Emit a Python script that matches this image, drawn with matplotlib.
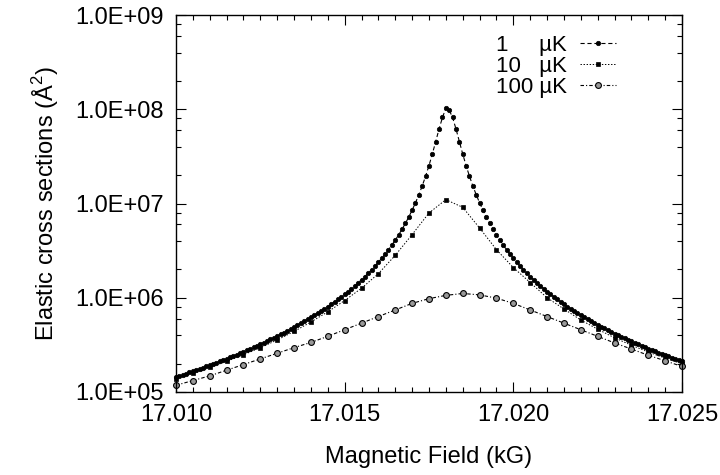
import numpy as np
import matplotlib.pyplot as plt
from matplotlib.ticker import MultipleLocator, LogLocator, FuncFormatter, NullFormatter

plt.rcParams['font.family'] = ['Liberation Sans', 'DejaVu Sans']
plt.rcParams['mathtext.fontset'] = 'custom'
plt.rcParams['mathtext.rm'] = 'Liberation Sans'
plt.rcParams['lines.scale_dashes'] = False

# 1 uK curve, sampled every 0.0001 kG
field_1uK = [
    17.0100, 17.0101, 17.0102, 17.0103, 17.0104, 17.0105, 17.0106, 17.0107, 17.0108, 17.0109,
    17.0110, 17.0111, 17.0112, 17.0113, 17.0114, 17.0115, 17.0116, 17.0117, 17.0118, 17.0119,
    17.0120, 17.0121, 17.0122, 17.0123, 17.0124, 17.0125, 17.0126, 17.0127, 17.0128, 17.0129,
    17.0130, 17.0131, 17.0132, 17.0133, 17.0134, 17.0135, 17.0136, 17.0137, 17.0138, 17.0139,
    17.0140, 17.0141, 17.0142, 17.0143, 17.0144, 17.0145, 17.0146, 17.0147, 17.0148, 17.0149,
    17.0150, 17.0151, 17.0152, 17.0153, 17.0154, 17.0155, 17.0156, 17.0157, 17.0158, 17.0159,
    17.0160, 17.0161, 17.0162, 17.0163, 17.0164, 17.0165, 17.0166, 17.0167, 17.0168, 17.0169,
    17.0170, 17.0171, 17.0172, 17.0173, 17.0174, 17.0175, 17.0176, 17.0177, 17.0178, 17.0179,
    17.0180, 17.0181, 17.0182, 17.0183, 17.0184, 17.0185, 17.0186, 17.0187, 17.0188, 17.0189,
    17.0190, 17.0191, 17.0192, 17.0193, 17.0194, 17.0195, 17.0196, 17.0197, 17.0198, 17.0199,
    17.0200, 17.0201, 17.0202, 17.0203, 17.0204, 17.0205, 17.0206, 17.0207, 17.0208, 17.0209,
    17.0210, 17.0211, 17.0212, 17.0213, 17.0214, 17.0215, 17.0216, 17.0217, 17.0218, 17.0219,
    17.0220, 17.0221, 17.0222, 17.0223, 17.0224, 17.0225, 17.0226, 17.0227, 17.0228, 17.0229,
    17.0230, 17.0231, 17.0232, 17.0233, 17.0234, 17.0235, 17.0236, 17.0237, 17.0238, 17.0239,
    17.0240, 17.0241, 17.0242, 17.0243, 17.0244, 17.0245, 17.0246, 17.0247, 17.0248, 17.0249,
    17.0250]
sigma_1uK = [
    1.44e5, 1.48e5, 1.52e5, 1.56e5, 1.61e5, 1.65e5, 1.70e5, 1.75e5, 1.80e5, 1.86e5,
    1.92e5, 1.98e5, 2.04e5, 2.11e5, 2.17e5, 2.25e5, 2.32e5, 2.40e5, 2.48e5, 2.57e5,
    2.66e5, 2.76e5, 2.86e5, 2.97e5, 3.08e5, 3.20e5, 3.33e5, 3.46e5, 3.60e5, 3.75e5,
    3.91e5, 4.07e5, 4.25e5, 4.44e5, 4.65e5, 4.86e5, 5.09e5, 5.34e5, 5.60e5, 5.89e5,
    6.20e5, 6.52e5, 6.86e5, 7.23e5, 7.63e5, 8.06e5, 8.53e5, 9.04e5, 9.60e5, 1.02e6,
    1.089e6, 1.163e6, 1.245e6, 1.336e6, 1.437e6, 1.550e6, 1.677e6, 1.821e6, 1.983e6, 2.167e6,
    2.379e6, 2.622e6, 2.905e6, 3.236e6, 3.625e6, 4.088e6, 4.644e6, 5.320e6, 6.151e6, 7.187e6,
    8.499e6, 1.019e7, 1.241e7, 1.540e7, 1.951e7, 2.529e7, 3.359e7, 4.553e7, 6.210e7, 8.199e7,
    1.03e8, 9.80e7, 8.199e7, 6.210e7, 4.553e7, 3.359e7, 2.529e7, 1.951e7, 1.540e7, 1.241e7,
    1.019e7, 8.499e6, 7.187e6, 6.151e6, 5.320e6, 4.644e6, 4.088e6, 3.625e6, 3.236e6, 2.905e6,
    2.622e6, 2.379e6, 2.167e6, 1.983e6, 1.821e6, 1.677e6, 1.550e6, 1.437e6, 1.336e6, 1.245e6,
    1.163e6, 1.09e6, 1.02e6, 9.60e5, 9.04e5, 8.53e5, 8.06e5, 7.63e5, 7.23e5, 6.86e5,
    6.52e5, 6.20e5, 5.91e5, 5.64e5, 5.38e5, 5.14e5, 4.92e5, 4.71e5, 4.52e5, 4.33e5,
    4.16e5, 4.00e5, 3.85e5, 3.70e5, 3.56e5, 3.44e5, 3.31e5, 3.20e5, 3.09e5, 2.98e5,
    2.88e5, 2.79e5, 2.70e5, 2.61e5, 2.53e5, 2.46e5, 2.38e5, 2.31e5, 2.24e5, 2.18e5,
    2.12e5]

# 10 uK and 100 uK share a coarser field grid
field_T = [17.0100, 17.0105, 17.0110, 17.0115, 17.0120, 17.0125, 17.0130, 17.0135,
           17.0140, 17.0145, 17.0150, 17.0155, 17.0160, 17.0165, 17.0170, 17.0175,
           17.0180, 17.0185, 17.0190, 17.0195, 17.0200, 17.0205, 17.0210, 17.0215,
           17.0220, 17.0225, 17.0230, 17.0235, 17.0240, 17.0245, 17.0250]
sigma_10uK = [1.38e5, 1.57e5, 1.82e5, 2.11e5, 2.48e5, 2.94e5, 3.56e5, 4.38e5,
              5.52e5, 7.08e5, 9.33e5, 1.26e6, 1.80e6, 2.82e6, 4.68e6, 7.94e6,
              1.10e7, 9.12e6, 5.50e6, 3.24e6, 2.09e6, 1.45e6, 1.00e6, 7.59e5,
              5.80e5, 4.63e5, 3.75e5, 3.13e5, 2.65e5, 2.28e5, 1.99e5]
sigma_100uK = [1.175e5, 1.318e5, 1.479e5, 1.698e5, 1.950e5, 2.239e5, 2.570e5, 2.951e5,
               3.35e5, 3.89e5, 4.57e5, 5.37e5, 6.31e5, 7.41e5, 8.71e5, 9.77e5,
               1.059e6, 1.109e6, 1.072e6, 9.89e5, 8.71e5, 7.41e5, 6.31e5, 5.37e5,
               4.57e5, 3.89e5, 3.31e5, 2.85e5, 2.45e5, 2.14e5, 1.86e5]

labels = ["1     \u00b5K", "10   \u00b5K", "100 \u00b5K"]

fig = plt.figure(figsize=(7.2, 4.75), dpi=100)
ax = fig.add_axes([0.2444, 0.175, 0.7028, 0.793])

ax.plot(field_1uK, sigma_1uK, color='black', lw=0.8, dashes=(3, 2),
        marker='o', ms=3.2, mfc='black', mec='black', mew=0.5,
        label=labels[0], clip_on=False)
ax.plot(field_T, sigma_10uK, color='black', lw=0.7, dashes=(1, 1.2),
        marker='s', ms=3.5, mfc='black', mec='black', mew=0.5,
        label=labels[1], clip_on=False)
ax.plot(field_T, sigma_100uK, color='black', lw=0.8, dashes=(2.5, 1.5, 0.8, 1.5),
        marker='o', ms=4.2, mfc='#999999', mec='black', mew=0.8,
        label=labels[2], clip_on=False)

ax.set_yscale('log')
ax.set_xlim(17.010, 17.025)
ax.set_ylim(1e5, 1e9)
ax.set_xticks([17.010, 17.015, 17.020, 17.025])
ax.xaxis.set_minor_locator(MultipleLocator(0.0005))
ax.xaxis.set_major_formatter(FuncFormatter(lambda v, p: "%.3f" % v))
ax.yaxis.set_major_locator(LogLocator(base=10, numticks=10))
ax.yaxis.set_minor_locator(LogLocator(base=10, subs=(2, 4, 6, 8), numticks=10))
ax.yaxis.set_major_formatter(FuncFormatter(lambda v, p: "%.1E" % v))
ax.yaxis.set_minor_formatter(NullFormatter())

ax.tick_params(which='both', direction='in', top=True, right=True, labelsize=17)
ax.tick_params(which='major', length=7, width=0.8, pad=9)
ax.tick_params(which='minor', length=3.5, width=0.8)
for s in ax.spines.values():
    s.set_linewidth(1.0)

ax.set_xlabel("Magnetic Field (kG)", fontsize=17, labelpad=14)
ax.set_ylabel("Elastic cross sections (\u00c5$^{2}$)", fontsize=17, labelpad=10)

ax.legend(loc='upper right', bbox_to_anchor=(0.9, 0.99), frameon=False, fontsize=16,
          markerfirst=False, handlelength=1.6, handletextpad=0.6,
          labelspacing=0.0, borderpad=0.2)

fig.savefig("out.png", dpi=100)
